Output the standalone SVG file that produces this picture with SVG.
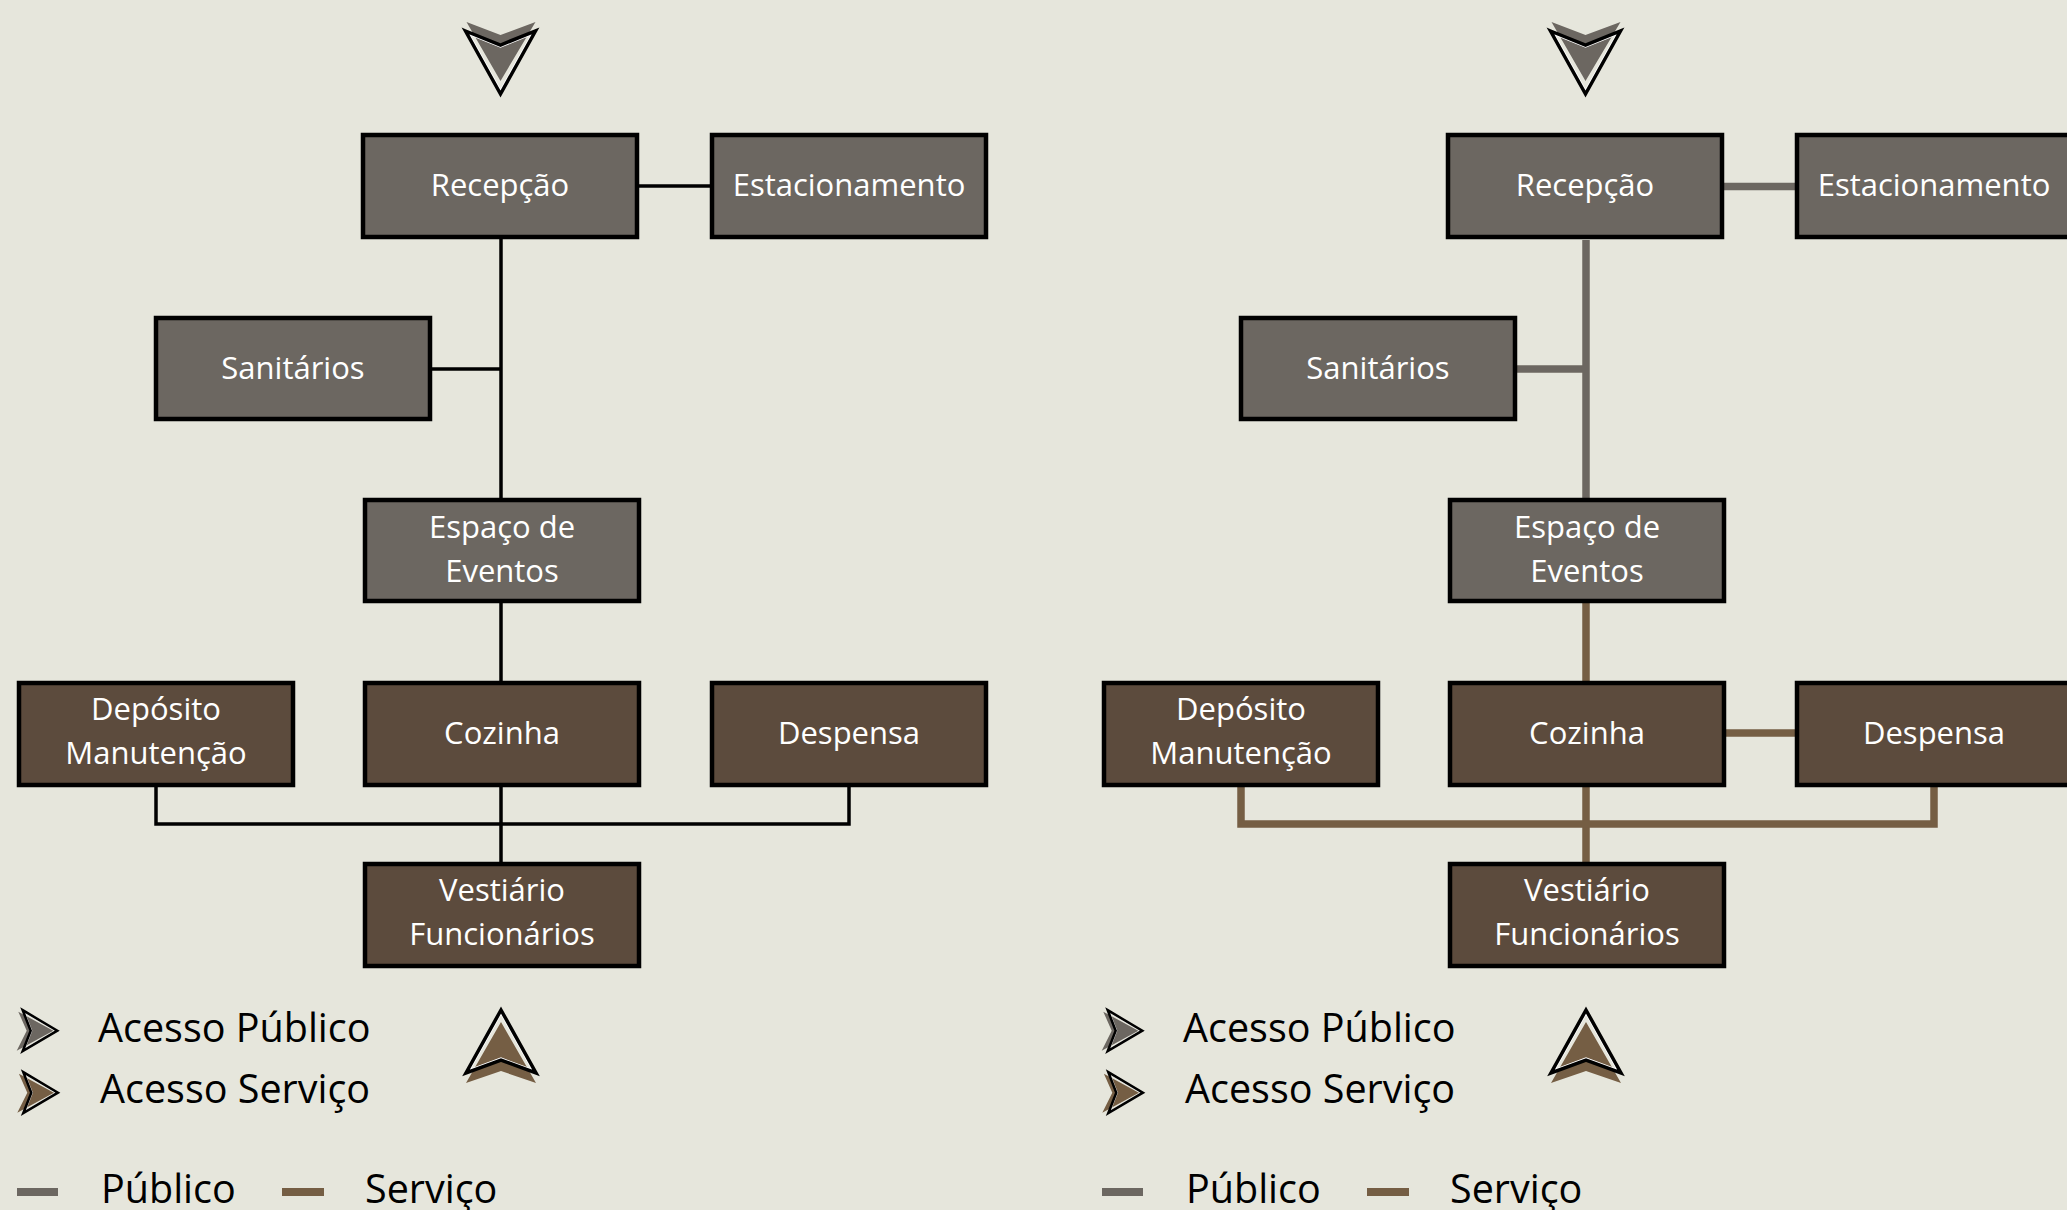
<svg xmlns="http://www.w3.org/2000/svg" width="2067" height="1210" viewBox="0 0 2067 1210">
<style>
.pub{fill:#6c6761;stroke:#000;stroke-width:4.5}
.srv{fill:#5c4b3d;stroke:#000;stroke-width:4.5}
.lbl{fill:#fff;font-family:"Open Sans","Liberation Sans",sans-serif;font-size:31px;text-anchor:middle}
.leg{fill:#000;font-family:"Open Sans","Liberation Sans",sans-serif;font-size:39.5px}
.cb{fill:none;stroke:#000;stroke-width:3.5}
.cg{fill:none;stroke:#6c6761;stroke-width:7.5}
.cs{fill:none;stroke:#755e44;stroke-width:7.5}
.ol{fill:none;stroke:#000;stroke-width:3.5;stroke-linejoin:miter}
.wl{fill:none;stroke:#fff;stroke-width:5}
</style>
<defs>
<path id="dn" d="M-35,0 L0,14 L35,0 L0,63 Z"/>
<path id="dnf" d="M-34,-9 L0,4 L35,-9 L0,50 Z"/>
<path id="up" d="M0,0 L35,63 L0,50 L-35,63 Z"/>
<path id="upf" d="M0,12 L35,73 L0,61 L-35,73 Z"/>
<path id="rt" d="M0,-20.5 L34.6,0 L0,20.5 L8,0 Z"/>
<path id="rtf" d="M-4.4,-19 L30.6,0 L-6,20 L4,0 Z"/>
<clipPath id="cdn"><use href="#dn"/></clipPath>
<clipPath id="cup"><use href="#up"/></clipPath>
<clipPath id="crt"><use href="#rt"/></clipPath>
<g id="arrowDown"><use href="#dnf" fill="#6c6761"/><use href="#dn" class="wl" clip-path="url(#cdn)"/><use href="#dn" class="ol"/></g>
<g id="arrowUp"><use href="#upf" fill="#755e44"/><use href="#up" class="wl" clip-path="url(#cup)"/><use href="#up" class="ol"/></g>
<g id="rtPub"><use href="#rtf" fill="#6c6761"/><use href="#rt" class="wl" clip-path="url(#crt)" style="stroke-width:3"/><use href="#rt" class="ol" style="stroke-width:2.5"/></g>
<g id="rtSrv"><use href="#rtf" fill="#755e44"/><use href="#rt" class="wl" clip-path="url(#crt)" style="stroke-width:3"/><use href="#rt" class="ol" style="stroke-width:2.5"/></g>
</defs>
<rect width="2067" height="1210" fill="#e6e6dc"/>

<g id="connectors">
<path class="cb" d="M639,186 H710"/>
<path class="cb" d="M501,239 V498"/>
<path class="cb" d="M431,369 H501"/>
<path class="cb" d="M501,603 V681"/>
<path class="cb" d="M501,787 V862"/>
<path class="cb" d="M156,787 V824 H849 V787"/>
<path class="cg" d="M1724,186.5 H1795"/>
<path class="cg" d="M1586,240 V498"/>
<path class="cg" d="M1516,369 H1586"/>
<path class="cs" d="M1586,603 V681"/>
<path class="cs" d="M1586,787 V862"/>
<path class="cs" d="M1726,733 H1795"/>
<path class="cs" d="M1241,787 V824 H1934 V787"/>
</g>

<g id="left-recepcao"><rect class="pub" x="363" y="135" width="274" height="102"/><text class="lbl" x="500" y="196">Recepção</text></g>
<g id="left-estacionamento"><rect class="pub" x="712" y="135" width="274" height="102"/><text class="lbl" x="849" y="196">Estacionamento</text></g>
<g id="left-sanitarios"><rect class="pub" x="156" y="318" width="274" height="101"/><text class="lbl" x="293" y="379">Sanitários</text></g>
<g id="left-eventos"><rect class="pub" x="365" y="500" width="274" height="101"/><text class="lbl" x="502" y="538">Espaço de</text><text class="lbl" x="502" y="582">Eventos</text></g>
<g id="left-deposito"><rect class="srv" x="19" y="683" width="274" height="102"/><text class="lbl" x="156" y="720">Depósito</text><text class="lbl" x="156" y="764">Manutenção</text></g>
<g id="left-cozinha"><rect class="srv" x="365" y="683" width="274" height="102"/><text class="lbl" x="502" y="744">Cozinha</text></g>
<g id="left-despensa"><rect class="srv" x="712" y="683" width="274" height="102"/><text class="lbl" x="849" y="744">Despensa</text></g>
<g id="left-vestiario"><rect class="srv" x="365" y="864" width="274" height="102"/><text class="lbl" x="502" y="901">Vestiário</text><text class="lbl" x="502" y="945">Funcionários</text></g>

<g id="right-recepcao"><rect class="pub" x="1448" y="135" width="274" height="102"/><text class="lbl" x="1585" y="196">Recepção</text></g>
<g id="right-estacionamento"><rect class="pub" x="1797" y="135" width="274" height="102"/><text class="lbl" x="1934" y="196">Estacionamento</text></g>
<g id="right-sanitarios"><rect class="pub" x="1241" y="318" width="274" height="101"/><text class="lbl" x="1378" y="379">Sanitários</text></g>
<g id="right-eventos"><rect class="pub" x="1450" y="500" width="274" height="101"/><text class="lbl" x="1587" y="538">Espaço de</text><text class="lbl" x="1587" y="582">Eventos</text></g>
<g id="right-deposito"><rect class="srv" x="1104" y="683" width="274" height="102"/><text class="lbl" x="1241" y="720">Depósito</text><text class="lbl" x="1241" y="764">Manutenção</text></g>
<g id="right-cozinha"><rect class="srv" x="1450" y="683" width="274" height="102"/><text class="lbl" x="1587" y="744">Cozinha</text></g>
<g id="right-despensa"><rect class="srv" x="1797" y="683" width="274" height="102"/><text class="lbl" x="1934" y="744">Despensa</text></g>
<g id="right-vestiario"><rect class="srv" x="1450" y="864" width="274" height="102"/><text class="lbl" x="1587" y="901">Vestiário</text><text class="lbl" x="1587" y="945">Funcionários</text></g>

<g id="entrances">
<use href="#arrowDown" transform="translate(500.5,31)"/>
<use href="#arrowDown" transform="translate(1585.5,31)"/>
<use href="#arrowUp" transform="translate(501,1010)"/>
<use href="#arrowUp" transform="translate(1586,1010)"/>
</g>

<g id="legend-left">
<use href="#rtPub" transform="translate(22.7,1030.7)"/>
<use href="#rtSrv" transform="translate(23.3,1092.7)"/>
<text class="leg" x="98" y="1042">Acesso Público</text>
<text class="leg" x="100" y="1103">Acesso Serviço</text>
<rect x="17" y="1188" width="41" height="8" fill="#6c6761"/>
<text class="leg" x="101" y="1203">Público</text>
<rect x="282" y="1188" width="42" height="8" fill="#755e44"/>
<text class="leg" x="365" y="1203">Serviço</text>
</g>
<g id="legend-right">
<use href="#rtPub" transform="translate(1107.7,1030.7)"/>
<use href="#rtSrv" transform="translate(1108.3,1092.7)"/>
<text class="leg" x="1183" y="1042">Acesso Público</text>
<text class="leg" x="1185" y="1103">Acesso Serviço</text>
<rect x="1102" y="1188" width="41" height="8" fill="#6c6761"/>
<text class="leg" x="1186" y="1203">Público</text>
<rect x="1367" y="1188" width="42" height="8" fill="#755e44"/>
<text class="leg" x="1450" y="1203">Serviço</text>
</g>
</svg>
